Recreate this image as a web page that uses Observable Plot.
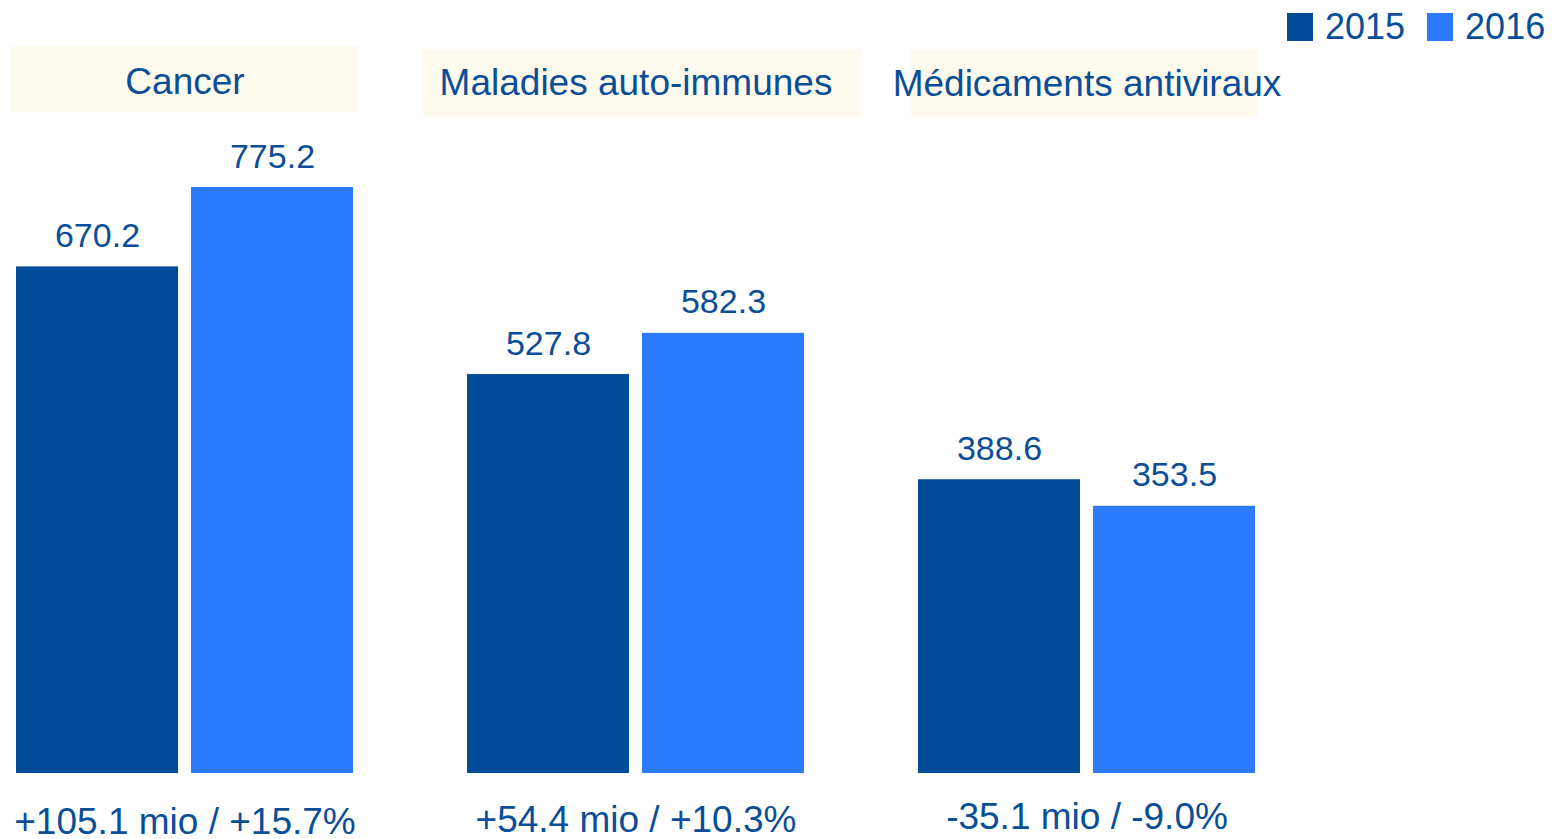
<!DOCTYPE html>
<html>
<head>
<meta charset="utf-8">
<script src="https://cdn.jsdelivr.net/npm/d3@7"></script>
<script src="https://cdn.jsdelivr.net/npm/@observablehq/plot@0.6"></script>
<style>
  html, body { margin: 0; padding: 0; background: #fff; overflow: hidden; }
  #wrap { position: relative; width: 1567px; height: 839px; }
  #legend { position: absolute; left: 1287px; top: 6px; width: 300px; white-space: nowrap; }
  #legend > div { flex-wrap: nowrap !important; }
  #legend [class$="-swatch"] { margin-right: 22px !important; }
  #legend [class$="-swatch"] > svg { margin-right: 12px !important; }
</style>
</head>
<body>
<div id="wrap"><div id="chart"></div><div id="legend"></div></div>
<script>
// ---- data ----
const groups = ["Cancer", "Maladies auto-immunes", "Médicaments antiviraux"];
const years = ["2015", "2016"];
const values2015 = [670.2, 527.8, 388.6];
const values2016 = [775.2, 582.3, 353.5];
const changeLabels = ["+105.1 mio / +15.7%", "+54.4 mio / +10.3%", "-35.1 mio / -9.0%"];

// ---- styling / layout ----
const colors = ["#004C97", "#2C7BFF"];
const textColor = "#0B4E98";
const cream = "#FFFAEE";
const font = "'Liberation Sans', Arial, sans-serif";
// per-group header box insets [left, right, top, bottom] and bottom-label offsets
const boxInsets = [[-5, -5, 46, 661], [-44, -57, 49, 657], [-7, -3, 49, 657]];
const headerDy = [93, 94, 95];
const changeDy = [60, 58, 55];

const rows = groups.flatMap((g, i) => [
  {group: g, year: years[0], value: values2015[i]},
  {group: g, year: years[1], value: values2016[i]}
]);
const groupRows = groups.map((g, i) => ({group: g, change: changeLabels[i]}));

const perGroup = (i) => groupRows.filter(d => d.group === groups[i]);

const marks = [];
groups.forEach((g, i) => {
  const [l, r, t, b] = boxInsets[i];
  marks.push(Plot.rect(perGroup(i), {
    fx: "group", fill: cream, insetLeft: l, insetRight: r, insetTop: t, insetBottom: b
  }));
  marks.push(Plot.text(perGroup(i), {
    fx: "group", text: "group", frameAnchor: "top", lineAnchor: "bottom", dy: headerDy[i],
    fill: textColor, fontSize: 37
  }));
  marks.push(Plot.text(perGroup(i), {
    fx: "group", text: "change", frameAnchor: "bottom", lineAnchor: "bottom", dy: changeDy[i],
    fill: textColor, fontSize: 37
  }));
});
marks.push(
  Plot.barY(rows, {fx: "group", x: "year", y: "value", fill: "year"}),
  Plot.text(rows, {
    fx: "group", x: "year", y: "value", text: d => d.value.toFixed(1),
    lineAnchor: "bottom", dy: -20, fill: textColor, fontSize: 34,
    style: "letter-spacing: 1px"
  })
);

const chart = Plot.plot({
  width: 1567,
  height: 839,
  marginLeft: 16,
  marginRight: 312,
  marginTop: 0,
  marginBottom: 66,
  style: {fontFamily: font, background: "#fff", overflow: "visible"},
  fx: {domain: groups, paddingInner: 114 / 451, paddingOuter: 0, axis: null, label: null},
  x: {domain: years, paddingInner: 13 / 175, paddingOuter: 0, axis: null, label: null},
  y: {domain: [0, d3.max(values2016)], range: [773, 187], axis: null, label: null},
  color: {domain: years, range: colors},
  marks
});
document.getElementById("chart").appendChild(chart);

const legend = Plot.legend({
  color: {domain: years, range: colors},
  legend: "swatches",
  swatchWidth: 26,
  swatchHeight: 28,
  style: {fontFamily: font, fontSize: "36px", color: textColor}
});
document.getElementById("legend").appendChild(legend);
</script>
</body>
</html>
